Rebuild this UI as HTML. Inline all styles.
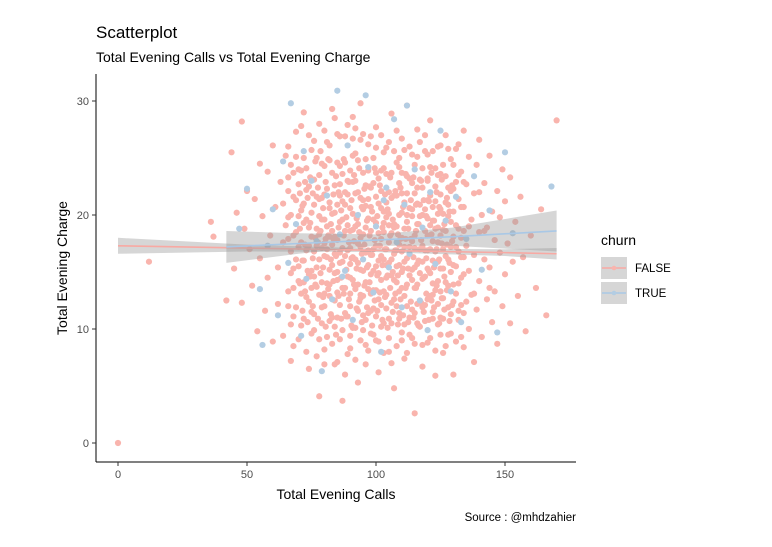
<!DOCTYPE html>
<html><head><meta charset="utf-8"><style>
body{margin:0;background:#fff;font-family:"Liberation Sans",Arial,sans-serif}
svg text{font-family:"Liberation Sans",Arial,sans-serif}
</style></head><body>
<svg id="chart" width="772" height="542" xmlns="http://www.w3.org/2000/svg">
<rect width="772" height="542" fill="#fff"/>
<text x="96" y="38" font-size="17" fill="#000">Scatterplot</text>
<text x="96" y="62" font-size="14" fill="#000">Total Evening Calls vs Total Evening Charge</text>
<g id="points"></g>
<g id="smooth"></g>
<g id="axes"></g>
<text x="336" y="499" font-size="14" text-anchor="middle">Total Evening Calls</text>
<text transform="translate(67,268) rotate(-90)" font-size="14" text-anchor="middle">Total Evening Charge</text>
<text x="576" y="521" font-size="11.5" text-anchor="end">Source : @mhdzahier</text>
<g>
<text x="601" y="245" font-size="14">churn</text>
<g>
<rect x="601" y="257" width="26" height="22" fill="#d6d6d6"/>
<line x1="602" y1="268" x2="626" y2="268" stroke="#f8a9a3" stroke-width="1.5"/>
<circle cx="614" cy="268" r="2.3" fill="#f9b4ad"/>
<text x="635" y="272" font-size="11.5">FALSE</text></g>
<g>
<rect x="601" y="282" width="26" height="22" fill="#d6d6d6"/>
<line x1="602" y1="293" x2="626" y2="293" stroke="#a9c8e6" stroke-width="1.5"/>
<circle cx="614" cy="293" r="2.3" fill="#b3cde3"/>
<text x="635" y="297" font-size="11.5">TRUE</text></g>
</g>
</svg>
<script>
const falsePts=[[0,0],[12,15.9],[36,19.4],[37,18.1],[42,12.5],[44,25.5],[45,15.3],[46,20.2],[48,28.2],[48,12.3],[49,18.8],[50,22.1],[51,17.0],[52,13.8],[53,21.4],[54,9.8],[55,24.5],[55,16.2],[56,19.9],[57,11.6],[58,23.8],[58,14.5],[59,18.2],[60,8.9],[60,26.1],[61,20.7],[62,15.4],[62,12.2],[63,22.9],[64,17.6],[64,9.4],[65,25.2],[65,19.1],[66,13.3],[66,23.3],[67,16.8],[67,7.2],[68,21.6],[68,11.1],[69,27.3],[69,18.5],[70,14.2],[70,24.0],[71,10.3],[71,20.4],[72,16.0],[72,29.0],[73,12.8],[73,22.2],[74,18.9],[74,6.5],[75,25.7],[75,15.1],[76,20.9],[76,9.9],[77,17.3],[77,13.7],[78,23.5],[78,28.0],[78,4.1],[79,19.6],[79,11.9],[80,16.4],[80,21.8],[80,8.2],[81,26.4],[81,14.0],[82,18.1],[82,24.8],[82,10.7],[83,15.6],[83,20.1],[83,29.3],[84,12.5],[84,22.6],[84,6.9],[85,17.8],[85,27.1],[85,13.2],[86,19.4],[86,9.1],[86,24.3],[87,15.9],[87,21.2],[87,3.7],[88,11.4],[88,18.6],[88,26.9],[89,14.6],[89,23.0],[89,7.8],[90,17.1],[90,20.6],[90,12.0],[91,28.6],[91,16.3],[91,22.9],[92,10.1],[92,19.0],[92,25.4],[93,13.9],[93,17.5],[93,5.3],[94,21.5],[94,15.2],[94,29.8],[95,11.2],[95,18.3],[95,23.7],[96,8.6],[96,16.7],[96,20.8],[97,26.2],[97,13.5],[97,19.7],[98,14.8],[98,22.4],[98,9.6],[99,17.0],[99,25.0],[99,11.8],[100,19.3],[100,15.5],[100,27.7],[101,12.6],[101,21.0],[101,6.2],[102,17.9],[102,23.9],[102,14.3],[103,20.3],[103,10.5],[103,16.1],[104,25.9],[104,13.0],[104,19.8],[105,15.8],[105,22.0],[105,8.0],[106,18.4],[106,28.9],[106,12.3],[107,21.7],[107,16.6],[107,4.8],[108,14.1],[108,24.6],[108,19.0],[109,10.9],[109,17.4],[109,22.8],[110,26.7],[110,15.0],[110,20.2],[111,12.9],[111,18.8],[111,7.4],[112,23.4],[112,16.2],[112,29.6],[113,11.0],[113,20.6],[113,14.7],[114,17.7],[114,25.3],[114,9.2],[115,2.6],[115,21.9],[115,13.6],[116,19.2],[116,15.7],[116,27.5],[117,10.2],[117,23.1],[117,17.0],[118,14.4],[118,20.0],[118,6.7],[119,25.6],[119,16.9],[119,12.1],[120,21.3],[120,18.2],[120,8.8],[121,14.9],[121,24.2],[121,28.3],[122,11.5],[122,19.5],[122,16.0],[123,22.5],[123,13.4],[123,5.9],[124,17.6],[124,26.0],[124,10.4],[125,20.5],[125,15.3],[125,23.6],[126,12.7],[126,18.7],[126,7.9],[127,27.0],[127,16.4],[127,21.1],[128,13.8],[128,19.9],[128,9.5],[129,24.9],[129,17.2],[129,11.3],[130,22.3],[130,15.6],[130,6.0],[131,19.1],[131,25.8],[131,13.1],[132,16.8],[132,10.8],[132,21.4],[133,23.8],[133,14.5],[133,18.0],[134,8.4],[134,20.7],[134,27.4],[135,12.4],[135,17.3],[135,22.7],[136,15.1],[136,25.1],[136,10.0],[137,19.6],[137,13.0],[138,21.9],[138,16.5],[138,7.1],[139,24.4],[139,11.7],[140,18.5],[140,14.2],[140,26.6],[141,20.0],[141,9.3],[142,16.1],[142,22.8],[143,12.6],[143,18.9],[144,25.2],[144,15.4],[145,10.6],[145,20.3],[146,17.8],[146,13.3],[147,22.1],[147,8.7],[148,16.7],[148,19.8],[149,24.0],[149,12.0],[150,14.8],[150,21.2],[151,17.5],[152,10.5],[152,23.3],[153,15.9],[154,19.4],[155,12.9],[156,21.6],[157,16.3],[158,9.8],[160,18.2],[162,13.6],[164,20.5],[166,11.2],[170,28.3],
[76,14.6],[77,18.8],[78,16.1],[79,21.5],[80,13.1],[81,19.0],[82,15.2],[83,17.4],[84,20.2],[85,15.0],[86,21.7],[87,13.6],[88,16.4],[89,19.1],[90,14.5],[91,18.7],[92,21.9],[93,15.8],[94,12.7],[95,20.5],[96,14.1],[97,16.9],[98,18.6],[99,13.4],[100,21.6],[101,16.0],[102,12.1],[103,18.5],[104,15.6],[105,20.1],[106,14.7],[107,19.2],[108,16.9],[109,13.3],[110,18.0],[111,21.1],[112,13.9],[113,17.2],[114,20.5],[115,15.4],[116,12.2],[117,19.9],[118,17.3],[119,14.6],[120,15.3],[121,19.1],[122,13.0],[123,16.8],[124,20.1],[125,18.2],[78,19.9],[80,17.5],[82,21.1],[84,14.9],[86,16.7],[88,22.0],[90,15.7],[92,13.5],[94,18.0],[96,22.6],[98,11.6],[100,17.3],[102,20.6],[104,17.0],[106,21.5],[108,12.0],[110,16.8],[112,19.4],[114,14.3],[116,22.4],[118,11.9],[120,23.0],[122,17.7],[124,14.2],[126,15.3],[128,22.4],[130,18.1],[132,14.0],[134,16.3],[136,19.0],[138,13.1],[140,22.0],[142,18.6],[144,13.6],[72,19.3],[74,14.8],[70,17.2],[68,15.3],[66,19.8],[64,21.0],[97,23.9],[103,24.1],[109,25.0],[91,25.2],[85,11.0],[95,9.9],[105,10.9],[115,11.4],[125,11.0],[75,11.5],[100,9.0],[110,9.7],[90,9.4],[80,24.3],[120,25.3]];
// extra FALSE points grouped by calls value
const denseCalls=[66,67,68,69,70,71,72,73,74,75,76,77,78,79,80,81,82,83,84,85,86,87,88,89,90,91,92,93,94,95,96,97,98,99,100,101,102,103,104,105,106,107,108,109,110,111,112,113,114,115,116,117,118,119,120,121,122,123,124,125,126,127,128,129,130,131,132,133,134];
const denseCharges=[[12.0,17.9,22.1,26.0],[10.4,14.9,20.0,24.4],[13.6,18.2,23.7,8.5],[11.9,16.1,21.3,25.1],[9.1,15.5,19.9,22.7],[13.1,17.6,23.9,27.8],[10.9,14.1,21.0,25.0],[8.0,16.9,19.6,24.1],[12.4,17.3,22.5,27.0],[9.6,13.6,20.2,18.1],[11.3,16.8,23.1,26.5],[7.6,15.4,21.6,25.0],[13.0,18.3,21.4,9.1],[10.5,14.1,17.1,24.5],[6.9,12.0,19.6,27.4],[9.3,16.3,22.3,17.0],[12.9,13.9,20.6,26.1],[8.7,11.0,18.6,23.7],[10.2,16.6,18.1,28.5],[7.1,14.3,20.9,24.6],[12.1,15.8,22.7,26.9],[9.9,17.1,19.6,23.6],[6.0,13.6,20.9,24.6],[11.1,16.9,21.8,27.9],[8.3,13.1,18.6,23.9],[10.1,14.3,20.1,26.7],[7.3,16.1,23.0,27.6],[11.6,19.2,22.0,24.8],[9.0,13.0,17.2,26.6],[12.9,15.1,21.3,27.1],[10.8,18.9,24.9,6.9],[8.1,11.4,15.6,21.4],[13.1,16.5,20.7,26.9],[9.5,15.1,19.6,22.8],[11.1,13.4,23.7,25.9],[8.9,14.9,18.4,23.2],[10.2,16.4,22.1,27.0],[7.9,13.3,19.3,25.5],[11.8,14.5,21.1,23.6],[9.2,17.6,19.1,26.4],[10.5,16.1,23.7,7.0],[12.6,14.3,18.9,25.6],[8.5,15.5,21.7,27.4],[11.4,15.6,20.0,24.2],[9.0,13.6,21.9,23.7],[10.4,15.9,17.2,25.7],[7.9,12.0,20.0,21.9],[9.5,16.6,23.2,26.0],[11.7,15.2,19.9,22.8],[8.7,17.1,18.2,24.4],[10.5,13.9,21.0,25.1],[12.4,14.9,20.9,26.4],[8.6,15.9,22.4,24.1],[10.7,18.6,20.5,27.0],[12.6,16.9,19.7,23.2],[9.2,12.9,17.0,21.7],[10.9,14.0,20.7,25.6],[8.1,18.8,21.2,24.1],[12.2,15.9,18.9,23.5],[9.5,13.3,21.8,26.1],[10.9,17.0,20.1,24.4],[8.5,14.1,18.6,23.4],[11.9,16.1,20.9,25.8],[9.6,15.0,19.4,22.1],[12.4,13.9,20.3,24.4],[8.9,15.5,17.2,22.9],[11.6,18.8,23.5,26.2],[9.3,12.1,16.3,20.7],[11.4,14.8,18.6,22.9]];
const denseCalls2=[70.5,71.5,72.5,73.5,74.5,75.5,76.5,77.5,78.5,79.5,80.5,81.5,82.5,83.5,84.5,85.5,86.5,87.5,88.5,89.5,90.5,91.5,92.5,93.5,94.5,95.5,96.5,97.5,98.5,99.5,100.5,101.5,102.5,103.5,104.5,105.5,106.5,107.5,108.5,109.5,110.5,111.5,112.5,113.5,114.5,115.5,116.5,117.5,118.5,119.5,120.5,121.5,122.5,123.5,124.5,125.5,126.5,127.5,128.5,129.5];
const denseCharges2=[[14.0,18.8,21.9],[11.6,16.0,20.8],[13.3,17.4,22.9],[10.6,15.1,21.5],[14.6,19.3,23.3],[12.0,16.2,21.9],[13.9,18.0,24.7],[10.9,17.6,22.4],[14.9,18.6,25.6],[12.8,15.4,20.6],[10.2,17.9,22.9],[13.5,18.2,24.9],[11.3,16.1,19.2],[14.2,17.9,21.8],[9.5,16.4,23.4],[12.9,18.9,22.0],[10.9,14.5,20.4],[13.1,18.2,24.9],[11.1,15.2,19.8],[12.6,17.6,22.9],[10.3,16.2,21.3],[13.9,17.7,23.5],[11.8,15.3,19.7],[12.4,18.5,24.1],[10.6,16.6,20.7],[13.8,17.4,22.3],[11.9,15.4,19.5],[14.1,18.2,22.5],[10.3,16.5,20.3],[12.5,17.8,24.1],[11.6,14.7,19.9],[13.2,17.3,22.6],[10.8,15.6,18.9],[12.8,17.0,21.8],[10.1,14.7,20.5],[13.6,18.2,23.3],[11.5,15.0,19.6],[13.1,16.9,22.1],[10.4,14.7,18.3],[12.6,17.9,22.4],[11.2,15.3,20.7],[13.6,17.9,23.6],[10.6,15.3,18.8],[12.4,17.9,21.3],[11.0,16.3,23.3],[13.6,18.6,20.9],[10.3,16.0,19.2],[12.3,17.8,23.0],[11.5,14.5,21.3],[13.1,16.2,19.9],[10.8,15.1,21.2],[12.5,18.3,23.7],[11.9,15.4,19.5],[13.8,17.0,22.0],[10.5,16.1,20.7],[12.7,17.5,23.1],[11.7,14.6,19.2],[13.4,17.4,21.5],[10.7,15.8,20.3],[12.1,17.7,22.6]];
const truePts=[[47,18.8],[50,22.3],[55,13.5],[56,8.6],[58,17.3],[60,20.5],[62,11.2],[64,24.7],[66,15.8],[67,29.8],[69,19.2],[71,9.4],[73,14.4],[75,23.0],[77,17.7],[79,6.3],[81,21.7],[83,12.6],[85,30.9],[86,18.3],[88,15.1],[89,26.1],[91,10.8],[93,20.0],[95,16.1],[96,30.5],[97,24.2],[99,13.2],[100,19.0],[102,8.0],[104,22.4],[105,15.4],[107,28.4],[108,17.6],[110,11.9],[111,20.9],[112,29.6],[113,16.6],[115,24.0],[117,12.5],[118,18.9],[120,9.9],[121,22.0],[123,15.7],[125,27.4],[127,19.5],[129,13.3],[131,21.6],[133,10.6],[135,17.9],[138,23.4],[141,15.2],[144,20.4],[147,9.7],[150,25.5],[153,18.4],[168,22.5],[72,25.6],[87,14.6],[103,21.3]];
// smooth fits: [x, fit, lower, upper]
const falseFit=[[0,17.3,16.6,18.0],[50,17.1,16.8,17.4],[100,16.9,16.75,17.05],[150,16.7,16.4,17.0],[170,16.6,16.1,17.1]];
const trueFit=[[42,17.2,15.8,18.6],[70,17.5,16.6,18.4],[100,17.8,17.3,18.3],[130,18.1,17.3,18.9],[170,18.6,16.8,20.4]];
const xTicks=[0,50,100,150];
const yTicks=[0,10,20,30];

const X=v=>118+v*2.58;
const Y=v=>443-v*11.4;
const NS="http://www.w3.org/2000/svg";
function mk(tag,attrs,parent){const e=document.createElementNS(NS,tag);for(const k in attrs)e.setAttribute(k,attrs[k]);parent.appendChild(e);return e;}
const pg=document.getElementById('points');
function addPt(cx,cy,col,nm){const c=mk('circle',{cx:X(cx),cy:Y(cy),r:3.1,fill:col},pg);

}
falsePts.forEach(p=>addPt(p[0],p[1],'#f9b4ad','point-false'));
denseCalls.forEach((cx,i)=>denseCharges[i].forEach(v=>addPt(cx,v,'#f9b4ad','point-false')));
denseCalls2.forEach((cx,i)=>denseCharges2[i].forEach(v=>addPt(cx,v,'#f9b4ad','point-false')));
truePts.forEach(p=>addPt(p[0],p[1],'#b3cde3','point-true'));
const sg=document.getElementById('smooth');
function smooth(fit,col,name){
 const up=fit.map(d=>X(d[0])+','+Y(d[3])).join(' ');
 const lo=fit.slice().reverse().map(d=>X(d[0])+','+Y(d[2])).join(' ');
 const b=mk('polygon',{points:up+' '+lo,fill:'#999',opacity:0.4},sg);
 
 
 const l=mk('polyline',{points:fit.map(d=>X(d[0])+','+Y(d[1])).join(' '),fill:'none',stroke:col,'stroke-width':1.6},sg);
 
 
}
smooth(falseFit,'#f8a9a3','false');
smooth(trueFit,'#a9c8e6','true');
const ag=document.getElementById('axes');
mk('line',{x1:96,y1:74,x2:96,y2:462,stroke:'#000','stroke-width':1},ag);
mk('line',{x1:96,y1:462,x2:576,y2:462,stroke:'#000','stroke-width':1},ag);
xTicks.forEach(t=>{mk('line',{x1:X(t),y1:462,x2:X(t),y2:466,stroke:'#333'},ag);
const tx=mk('text',{x:X(t),y:478,'font-size':11,'text-anchor':'middle',fill:'#4d4d4d'},ag);tx.textContent=t;

});
yTicks.forEach(t=>{mk('line',{x1:92,y1:Y(t),x2:96,y2:Y(t),stroke:'#333'},ag);
const tx=mk('text',{x:89,y:Y(t)+4,'font-size':11,'text-anchor':'end',fill:'#4d4d4d'},ag);tx.textContent=t;

});
</script>
</body></html>
